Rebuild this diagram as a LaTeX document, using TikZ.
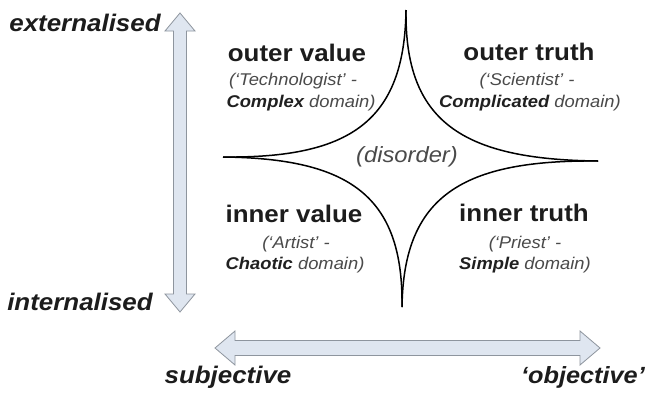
\documentclass[tikz,border=0pt]{standalone}
\usepackage{fontspec}
\setmainfont{Liberation Sans}[FakeStretch=1.08]
\usetikzlibrary{calc}
\definecolor{axisfill}{HTML}{DFE6F0}
\definecolor{axisline}{HTML}{8E959E}
\definecolor{titlecol}{HTML}{1C1C1C}
\definecolor{subcol}{HTML}{4A4A4A}
\definecolor{boldcol}{HTML}{202020}
\begin{document}
\begin{tikzpicture}[x=1pt,y=-1pt,
  axis/.style={draw=axisline, fill=axisfill, line width=0.8pt, line join=miter},
  qtitle/.style={font=\fontsize{24}{26}\selectfont\bfseries, text=titlecol, anchor=base, inner sep=0pt},
  qsub/.style={font=\fontsize{17}{19}\selectfont\itshape, text=subcol, anchor=base, inner sep=0pt},
  axlabel/.style={font=\fontsize{24}{26}\selectfont\bfseries\itshape, text=titlecol, anchor=base, inner sep=0pt},
  cusp/.style={draw=black, line width=1.5pt}]
\fill[white] (0,0) rectangle (647,394);
\useasboundingbox (0,0) rectangle (647,394);

% vertical axis arrow
\coordinate (vt) at (180,13);
\coordinate (vb) at (180,312);
\draw[axis] (vt) -- ++(15,18) -- ++(-8.5,0) -- ($(vb)+(6.5,-18)$) -- ++(8.5,0) -- (vb)
  -- ++(-15,-18) -- ++(8.5,0) -- ($(vt)+(-6.5,18)$) -- ++(-8.5,0) -- cycle;

% horizontal axis arrow
\coordinate (hl) at (215,348);
\coordinate (hr) at (600,348);
\draw[axis] (hl) -- ++(20,-17) -- ++(0,9.5) -- ($(hr)+(-20,-7.5)$) -- ++(0,-9.5) -- (hr)
  -- ++(-20,17) -- ++(0,-9.5) -- ($(hl)+(20,7.5)$) -- ++(0,9.5) -- cycle;

% axis labels
\node[axlabel] (ext) at (85,31.5) {externalised};
\node[axlabel] (int) at (80,310) {internalised};
\node[axlabel] (subj) at (228,383) {subjective};
\node[axlabel, anchor=base east, font=\fontsize{23.4}{26}\selectfont\bfseries\itshape] (obj) at (645,383) {‘objective’};

% cusp figure
\coordinate (C) at (404,159);
\coordinate (T) at (406,10);
\coordinate (B) at (402,307);
\coordinate (L) at (223,157);
\coordinate (R) at (598,161);
\draw[cusp] (T) .. controls ($(T)!0.75!(C)$) and ($(L)!0.7!(C)$) .. (L);
\draw[cusp] (T) .. controls ($(T)!0.75!(C)$) and ($(R)!0.7!(C)$) .. (R);
\draw[cusp] (B) .. controls ($(B)!0.75!(C)$) and ($(L)!0.7!(C)$) .. (L);
\draw[cusp] (B) .. controls ($(B)!0.75!(C)$) and ($(R)!0.7!(C)$) .. (R);

\node[font=\fontsize{22}{24}\selectfont\itshape, text=subcol, inner sep=0pt] (dis) at (407,157) {(disorder)};

% quadrants
\node[qtitle] (ov) at (297,61) {outer value};
\node[qsub] (ov1) at (293,85) {(‘Technologist’ -};
\node[qsub] (ov2) at (301,107) {{\color{boldcol}\bfseries Complex} domain)};

\node[qtitle] (ot) at (529,60) {outer truth};
\node[qsub] (ot1) at (527,85) {(‘Scientist’ -};
\node[qsub] (ot2) at (530,107) {{\color{boldcol}\bfseries Complicated} domain)};

\node[qtitle] (iv) at (294,222) {inner value};
\node[qsub] (iv1) at (296,248) {(‘Artist’ -};
\node[qsub] (iv2) at (295,269) {{\color{boldcol}\bfseries Chaotic} domain)};

\node[qtitle] (it) at (524,221) {inner truth};
\node[qsub] (it1) at (525,248) {(‘Priest’ -};
\node[qsub] (it2) at (525,269) {{\color{boldcol}\bfseries Simple} domain)};
\end{tikzpicture}
\end{document}
